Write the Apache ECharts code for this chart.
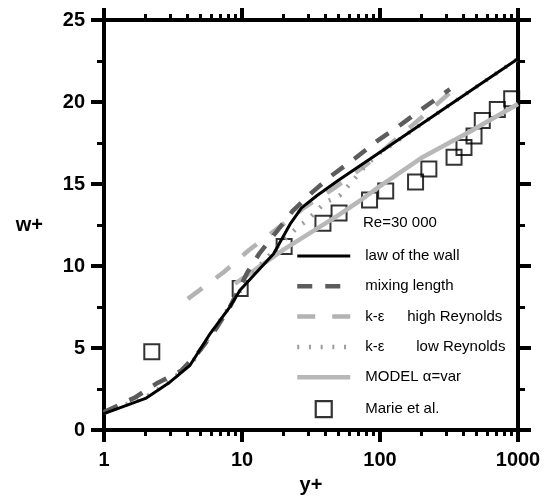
<!DOCTYPE html>
<html><head><meta charset="utf-8">
<script src="https://cdn.jsdelivr.net/npm/echarts@6/dist/echarts.min.js"></script>
<style>html,body{margin:0;padding:0;background:#fff}#c{width:551px;height:500px}</style>
</head><body><div id="c"></div><script>
const FONT = '"Liberation Sans", Arial, Helvetica, sans-serif';

// tick values
const xTicksMajor = [1, 10, 100, 1000];
const xTicksMinor = [2,3,4,5,6,7,8,9,20,30,40,50,60,70,80,90,200,300,400,500,600,700,800,900];

// law of the wall
const xWall = [1, 2, 3, 4.2, 5.9, 8.2, 9.7, 12.8, 16.9, 22.3, 27, 35, 50, 100, 200, 500, 1000];
const wWall = [1.0, 1.93, 2.92, 3.95, 5.9, 7.53, 8.54, 9.64, 10.74, 12.55, 13.55, 14.3, 15.23, 16.94, 18.66, 20.93, 22.64];

// mixing length
const xMix = [1, 1.68, 2.46, 3.6, 4.8, 6.3, 8.2, 11, 13.3, 18, 23.3, 32.5, 44.7, 64.8, 95.6, 137, 200, 321];
const wMix = [1.1, 1.99, 2.89, 3.6, 4.7, 6.02, 7.53, 9.65, 10.74, 12.15, 13.36, 14.52, 15.52, 16.52, 17.63, 18.54, 19.55, 20.78];

// k-eps high Reynolds
const xHigh = [4.05, 7.4, 11.25, 17.8, 28.1, 46, 80, 125, 230, 350];
const wHigh = [8.0, 9.64, 10.98, 12.25, 13.55, 14.72, 16.2, 17.6, 19.5, 20.85];

// k-eps low Reynolds
const xLow = [1, 2, 3, 4.5, 6, 8, 10, 13.1, 19.9, 25.2, 30.2, 39.8, 51, 63.6, 80, 100, 200, 500, 1000];
const wLow = [1.05, 2.0, 2.95, 4.3, 5.9, 7.45, 8.65, 9.94, 11.55, 12.35, 12.85, 13.86, 14.3, 15.2, 16.2, 16.9, 18.66, 20.93, 22.64];

// MODEL alpha = var
const xModel = [8.9, 10.5, 20, 50, 72, 97, 200, 450, 1000];
const wModel = [8.93, 9.34, 11.0, 13.1, 14.0, 14.8, 16.6, 18.2, 19.88];

// Marie et al.
const xMarie = [2.22, 9.7, 20.2, 38.6, 50.5, 84, 110, 181, 226, 344, 406, 480, 551, 708, 900];
const wMarie = [4.78, 8.63, 11.2, 12.61, 13.23, 14.02, 14.58, 15.12, 15.92, 16.63, 17.23, 17.93, 18.87, 19.54, 20.2];

const names = ['law of the wall', 'mixing length', 'k-ε high Reynolds', 'k-ε low Reynolds', 'MODEL α=var', 'Marie et al.'];

function pairs(xs, ys) { return xs.map((x, i) => [x, ys[i]]); }

const chart = echarts.init(document.getElementById('c'), null, {renderer: 'canvas'});

const blk = '#000';
function xAxisBase(pos, minor) {
  return {
    type: 'log', logBase: 10, min: 1, max: 1000, position: pos,
    axisLine: {show: !minor, onZero: false, lineStyle: {color: blk, width: 4}},
    axisTick: {show: true, inside: false, length: minor ? 6 : 12,
      customValues: minor ? xTicksMinor : xTicksMajor,
      lineStyle: {color: blk, width: minor ? 3 : 4}},
    axisLabel: {show: false},
    splitLine: {show: false},
    minorTick: {show: false}, minorSplitLine: {show: false}
  };
}
const xBottom = xAxisBase('bottom', false);
xBottom.axisLabel = {show: true, customValues: xTicksMajor, margin: 20,
  formatter: v => String(Math.round(v)),
  color: blk, fontSize: 20, fontWeight: 'bold', fontFamily: FONT};
xBottom.name = 'y+';
xBottom.nameLocation = 'middle';
xBottom.nameGap = 28;
xBottom.nameTextStyle = {color: blk, fontSize: 20, fontWeight: 'bold', fontFamily: FONT};

function yAxisBase(pos) {
  return {
    type: 'value', min: 0, max: 25, interval: 5, position: pos,
    axisLine: {show: true, onZero: false, lineStyle: {color: blk, width: 4}},
    axisTick: {show: true, inside: false, length: 13, lineStyle: {color: blk, width: 4}},
    minorTick: {show: true, splitNumber: 2, length: 7, lineStyle: {color: blk, width: 3}},
    axisLabel: {show: false},
    splitLine: {show: false}
  };
}
const yLeft = yAxisBase('left');
yLeft.axisLabel = {show: true, margin: 19, color: blk, fontSize: 20, fontWeight: 'bold', fontFamily: FONT};
yLeft.name = 'w+';
yLeft.nameLocation = 'middle';
yLeft.nameRotate = 0;
yLeft.nameGap = 61;
yLeft.nameTextStyle = {color: blk, fontSize: 20, fontWeight: 'bold', fontFamily: FONT};

const lineSeries = (name, xs, ys, color, width, type) => ({
  name, type: 'line', data: pairs(xs, ys), xAxisIndex: 0, yAxisIndex: 0,
  symbol: 'none', showSymbol: false, smooth: false,
  lineStyle: {color, width, type, cap: 'butt', join: 'round'}, itemStyle: {color},
  emphasis: {disabled: true}, silent: true
});

const hiddenSym = {color: 'rgba(0,0,0,0)', borderColor: 'rgba(0,0,0,0)', borderWidth: 0, opacity: 0};

const option = {
  animation: false,
  backgroundColor: '#fff',
  grid: {left: 104, right: 33, top: 20, bottom: 65, containLabel: false},
  title: {text: 'Re=30 000', left: 363, top: 215, padding: 0,
    textStyle: {fontSize: 15, fontWeight: 'normal', fontFamily: FONT, color: blk}},
  legend: {
    orient: 'vertical', left: 295, top: 248.5, padding: 0,
    itemWidth: 53, itemHeight: 16, itemGap: 15.3, selectedMode: false,
    symbolKeepAspect: true,
    data: names.map(n => n === 'Marie et al.'
      ? {name: n, icon: 'path://M0,0L10,0L10,10L0,10Z', symbolKeepAspect: true,
         itemStyle: {color: 'rgba(0,0,0,0)', borderColor: blk, borderWidth: 2.2}}
      : {name: n, itemStyle: hiddenSym}),
    lineStyle: {width: 'inherit', type: 'inherit'},
    textStyle: {fontSize: 15, fontFamily: FONT, color: blk, padding: [0, 0, 0, 10],
      rich: {
        kh: {width: 42, fontSize: 15, fontFamily: FONT, color: blk},
        kl: {width: 51, fontSize: 15, fontFamily: FONT, color: blk},
        t: {fontSize: 15, fontFamily: FONT, color: blk}
      }},
    formatter: function (n) {
      if (n === 'k-ε high Reynolds') return '{kh|k-ε}{t|high Reynolds}';
      if (n === 'k-ε low Reynolds') return '{kl|k-ε}{t|low Reynolds}';
      return n;
    }
  },
  xAxis: [xBottom, xAxisBase('bottom', true), xAxisBase('top', false), xAxisBase('top', true)],
  yAxis: [yLeft, yAxisBase('right')],
  series: [
    lineSeries(names[4], xModel, wModel, '#b8b8b8', 4.5, 'solid'),
    lineSeries(names[2], xHigh, wHigh, '#b3b3b3', 4.5, [18, 17]),
    lineSeries(names[3], xLow, wLow, '#9c9c9c', 4.5, [2, 9.7]),
    lineSeries(names[1], xMix, wMix, '#5c5c5c', 4.5, [15, 13]),
    lineSeries(names[0], xWall, wWall, '#000000', 3, 'solid'),
    {
      name: names[5], type: 'scatter', data: pairs(xMarie, wMarie),
      symbol: 'rect', symbolSize: 15,
      itemStyle: {color: 'rgba(0,0,0,0)', borderColor: blk, borderWidth: 2},
      emphasis: {disabled: true}, silent: true
    }
  ]
};
chart.setOption(option);
</script></body></html>
